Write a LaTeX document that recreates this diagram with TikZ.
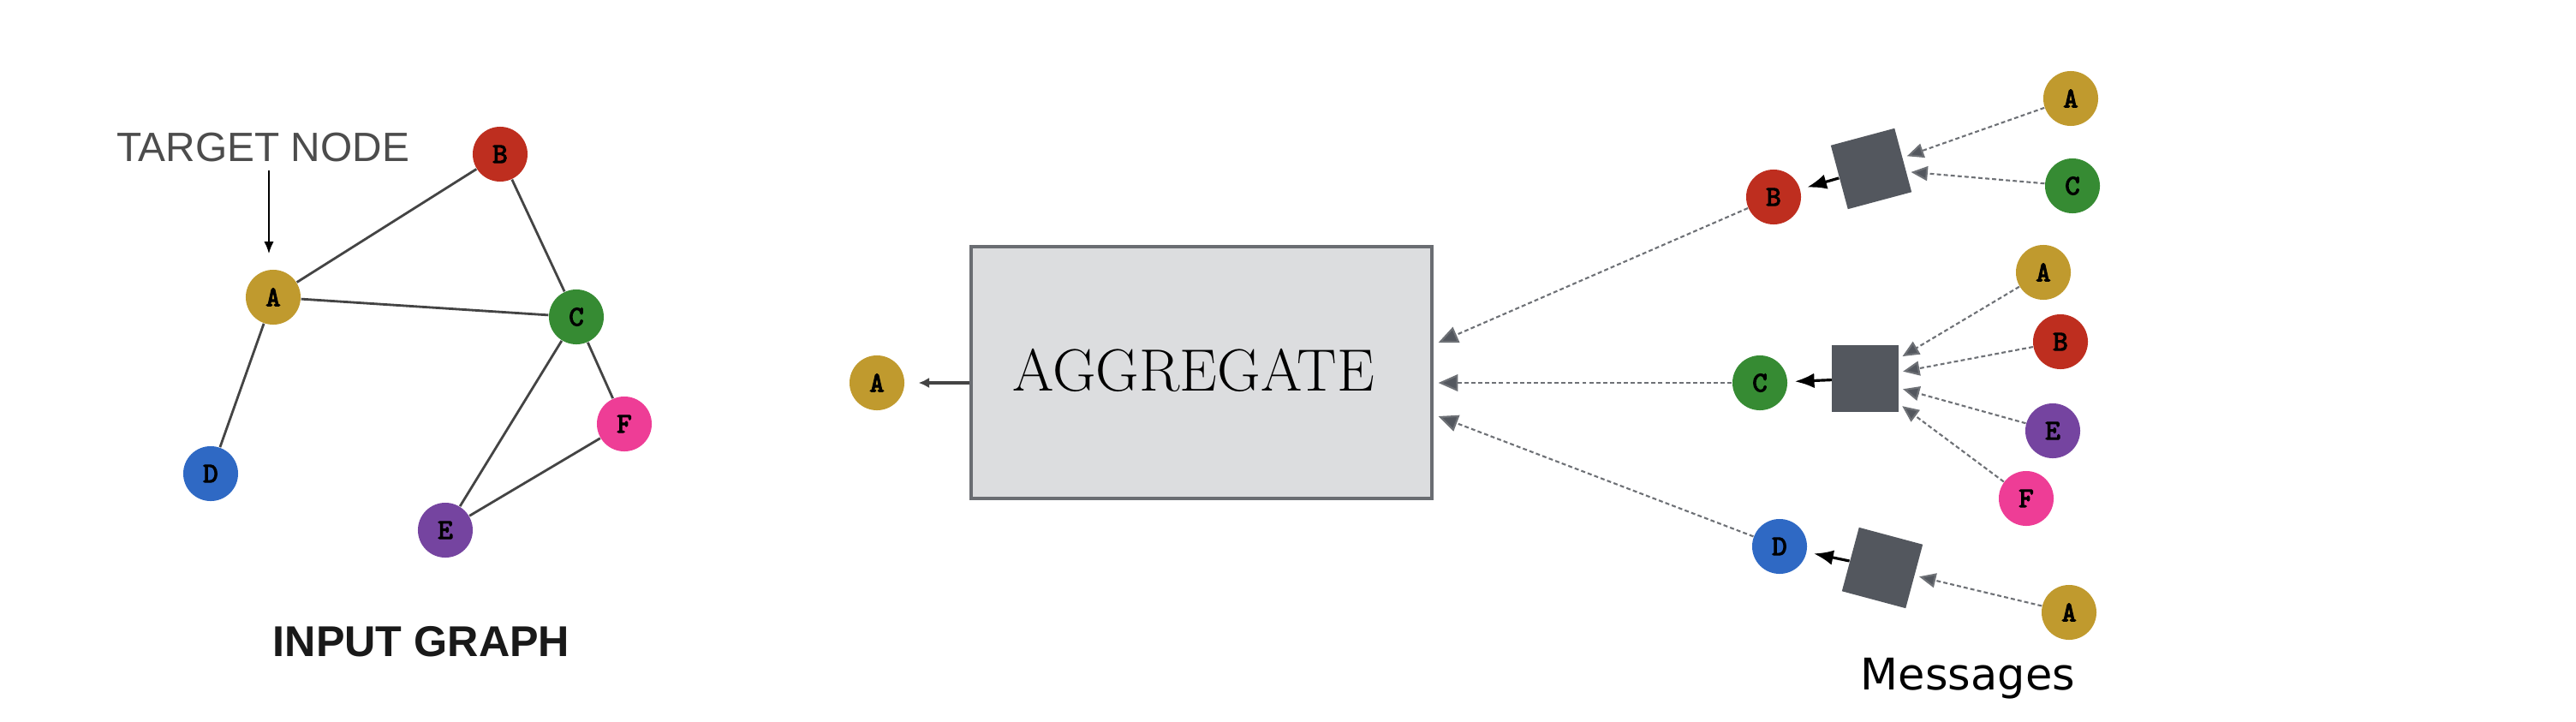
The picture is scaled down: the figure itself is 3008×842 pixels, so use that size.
\documentclass[tikz,border=0pt]{standalone}
\usepackage{fontspec}
\newfontfamily\nodefont{Latin Modern Mono}[FakeBold=3]
\newfontfamily\lsans{Liberation Sans}
\newfontfamily\dvsans{DejaVu Sans}
\usetikzlibrary{arrows.meta,calc}
\definecolor{cA}{HTML}{C09A2E}
\definecolor{cB}{HTML}{BE2E1F}
\definecolor{cC}{HTML}{368B33}
\definecolor{cD}{HTML}{2F69C4}
\definecolor{cE}{HTML}{7544A0}
\definecolor{cF}{HTML}{EE3D96}
\definecolor{sqgray}{HTML}{53575E}
\definecolor{boxfill}{HTML}{DCDDDF}
\definecolor{boxline}{HTML}{6A6D72}
\definecolor{msggray}{HTML}{6E7176}
\definecolor{edgegray}{HTML}{444444}
\definecolor{labelgray}{HTML}{4C4C4C}
\begin{document}
\begin{tikzpicture}[x=0.01cm,y=-0.01cm,
  gnode/.style={circle,minimum size=0.64cm,inner sep=0pt,text=black,
    font=\nodefont\fontsize{9.5pt}{9.5pt}\selectfont},
  msgsq/.style={rectangle,minimum size=0.77cm,inner sep=0pt,fill=sqgray},
  gedge/.style={draw=edgegray,line width=0.8pt},
  msgline/.style={draw=msggray,line width=0.6pt,dash pattern=on 1.4pt off 0.9pt,
    -{Triangle[length=5.5pt,width=4.8pt,fill=sqgray]},shorten >=0.05cm},
  aggline/.style={draw=msggray,line width=0.6pt,dash pattern=on 1.4pt off 0.9pt,
    -{Triangle[length=6.5pt,width=5.6pt,fill=sqgray]}},
  outarrow/.style={draw=black,line width=0.9pt,-{Latex[length=6.5pt,width=5pt]},shorten >=0.08cm},
]
\fill[white] (0,0) rectangle (3008,842);
\useasboundingbox (0,0) rectangle (3008,842);

% ---------- input graph ----------
\node[gnode,fill=cA] (gA) at (319,347) {A};
\node[gnode,fill=cB] (gB) at (584,180) {B};
\node[gnode,fill=cC] (gC) at (673,370) {C};
\node[gnode,fill=cD] (gD) at (246,553) {D};
\node[gnode,fill=cE] (gE) at (520,619) {E};
\node[gnode,fill=cF] (gF) at (729,495) {F};
\draw[gedge] (gA) -- (gB);
\draw[gedge] (gA) -- (gC);
\draw[gedge] (gB) -- (gC);
\draw[gedge] (gA) -- (gD);
\draw[gedge] (gC) -- (gE);
\draw[gedge] (gC) -- (gF);
\draw[gedge] (gE) -- (gF);

\node[anchor=base,inner sep=0pt,text=labelgray,font=\lsans\fontsize{13.6pt}{13.6pt}\selectfont] (tlabel) at (307,188) {TARGET NODE};
\coordinate (tstart) at (314,199);
\draw[black,line width=0.6pt,-{Latex[length=4pt,width=3.2pt]},shorten >=0.18cm] (tstart) -- (tstart |- gA.north);

\node[anchor=base,inner sep=0pt,text=black!90,font=\lsans\bfseries\fontsize{14.3pt}{14.3pt}\selectfont] (glabel) at (492,766) {INPUT GRAPH};

% ---------- aggregate ----------
\node[rectangle,draw=boxline,line width=1.1pt,fill=boxfill,minimum width=5.37cm,minimum height=2.93cm,inner sep=0pt] (agg) at (1403,435) {};
\node[inner sep=0pt,font=\fontsize{19.8pt}{19.8pt}\selectfont] (aggtext) at ($(agg.center)+(-9,-3)$) {AGGREGATE};
\node[gnode,fill=cA] (aA) at (1024,447) {A};
\draw[draw=edgegray,line width=1.1pt,-{Latex[length=3.5pt,width=3.5pt]}] (agg.west |- aA) -- ($(aA.east)+(16,0)$) coordinate (aend);

% ---------- messages ----------
\node[gnode,fill=cB] (mB) at (2071,230) {B};
\node[gnode,fill=cC] (mC) at (2055,447) {C};
\node[gnode,fill=cD] (mD) at (2078,638) {D};

\node[msgsq,rotate=15] (s1) at (2185,197) {};
\node[msgsq] (s2) at (2178,442) {};
\node[msgsq,rotate=-15] (s3) at (2198,663) {};

\node[gnode,fill=cA] (n1A) at (2418,115) {A};
\node[gnode,fill=cC] (n1C) at (2420,217) {C};
\node[gnode,fill=cA] (n2A) at (2386,318) {A};
\node[gnode,fill=cB] (n2B) at (2406,399) {B};
\node[gnode,fill=cE] (n2E) at (2397,503) {E};
\node[gnode,fill=cF] (n2F) at (2366,582) {F};
\node[gnode,fill=cA] (n3A) at (2416,715) {A};

\draw[msgline] (n1A) -- (s1);
\draw[msgline] (n1C) -- (s1);
\draw[msgline] (n2A) -- (s2);
\draw[msgline] (n2B) -- (s2);
\draw[msgline] (n2E) -- (s2);
\draw[msgline] (n2F) -- (s2);
\draw[msgline] (n3A) -- (s3);

\draw[outarrow] (s1) -- (mB);
\draw[outarrow] (s2) -- (mC);
\draw[outarrow] (s3) -- (mD);

\coordinate (in1) at ($(agg.east)+(6,-35)$);
\coordinate (in2) at ($(agg.east)+(6,12)$);
\coordinate (in3) at ($(agg.east)+(6,51)$);
\draw[aggline] (mB) -- (in1);
\draw[aggline] (mC) -- (in2);
\draw[aggline] (mD) -- (in3);

\node[anchor=base,inner sep=0pt,text=black,font=\dvsans\fontsize{14.5pt}{14.5pt}\selectfont] (msglabel) at (2298,805) {Messages};
\end{tikzpicture}
\end{document}
